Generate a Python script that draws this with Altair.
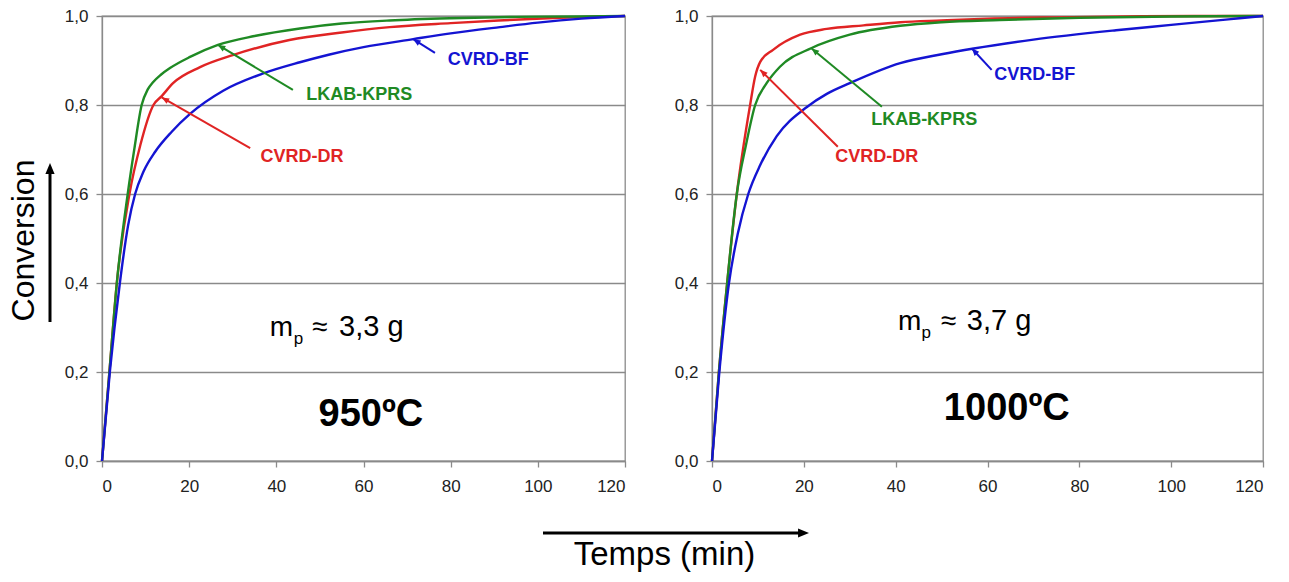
import math
import altair as alt
import pandas as pd

FONT = "Liberation Sans"
SERIES = ["CVRD-DR", "LKAB-KPRS", "CVRD-BF"]
COLORS = ["#e02424", "#1f8a24", "#1414d2"]

X_TICKS = [0, 20, 40, 60, 80, 100, 120]
Y_TICKS = [0.0, 0.2, 0.4, 0.6, 0.8, 1.0]

# ---- 950 °C panel (time in min, conversion) ----
t950_dr = [0, 1.7, 3.4, 6.3, 8.8, 11.8, 13.7, 16.3, 22.5, 30, 43, 55, 66, 80, 91, 105, 120]
c950_dr = [0, 0.2, 0.4, 0.6, 0.71, 0.8, 0.82, 0.849, 0.885, 0.912, 0.946, 0.963, 0.975, 0.984, 0.99, 0.996, 1.0]
t950_lkab = [0, 1.7, 3.4, 5.9, 7.4, 9.1, 10.5, 11.7, 13.5, 15.6, 20.2, 26.6, 35, 45.4, 55, 66, 80, 95, 110, 120]
c950_lkab = [0, 0.2, 0.4, 0.6, 0.7, 0.8, 0.835, 0.851, 0.868, 0.883, 0.908, 0.935, 0.955, 0.972, 0.983, 0.99, 0.995, 0.998, 0.999, 1.0]
t950_bf = [0, 1.8, 4.1, 6.0, 7.6, 9.5, 12.2, 16, 20.2, 27.8, 37, 45.4, 52, 60, 71.4, 80, 91.3, 100, 110, 120]
c950_bf = [0, 0.2, 0.4, 0.53, 0.6, 0.65, 0.695, 0.74, 0.78, 0.832, 0.871, 0.896, 0.913, 0.93, 0.948, 0.961, 0.975, 0.985, 0.994, 1.0]

# ---- 1000 °C panel ----
t1000_dr = [0, 1.5, 3.3, 5.4, 8.3, 9.4, 10.5, 13.3, 19.2, 25, 33, 41, 50, 60, 75, 90, 105, 120]
c1000_dr = [0, 0.2, 0.4, 0.6, 0.8, 0.864, 0.897, 0.924, 0.958, 0.971, 0.979, 0.986, 0.99, 0.994, 0.997, 0.999, 1.0, 1.0]
t1000_lkab = [0, 1.5, 3.3, 5.4, 7.4, 9.4, 11.9, 14.8, 21.7, 30, 41, 50, 62.7, 80, 100, 120]
c1000_lkab = [0, 0.2, 0.4, 0.6, 0.71, 0.8, 0.849, 0.886, 0.928, 0.958, 0.978, 0.986, 0.991, 0.996, 0.999, 1.0]
t1000_bf = [0, 1.6, 3.7, 5.6, 7.9, 10.5, 14.1, 20.6, 25, 30, 41, 50, 57, 70, 88, 100, 113, 120]
c1000_bf = [0, 0.2, 0.4, 0.51, 0.6, 0.665, 0.73, 0.795, 0.825, 0.849, 0.894, 0.914, 0.927, 0.947, 0.968, 0.98, 0.993, 1.0]

# ---- annotations: label position, arrow start, arrow tip (data units) ----
lab950_x = [45.9, 59.0, 88.6]
lab950_y = [0.683, 0.822, 0.901]
arr950_x1 = [34.0, 43.8, 76.4]
arr950_y1 = [0.703, 0.834, 0.917]
arr950_x2 = [13.7, 26.6, 71.4]
arr950_y2 = [0.817, 0.935, 0.948]

lab1000_x = [35.9, 46.2, 70.3]
lab1000_y = [0.683, 0.766, 0.867]
arr1000_x1 = [27.4, 37.0, 60.9]
arr1000_y1 = [0.706, 0.796, 0.879]
arr1000_x2 = [10.5, 21.7, 56.6]
arr1000_y2 = [0.879, 0.927, 0.927]

W1, W2, H = 523, 551, 445
ARROW = "M0,0L0.42,1L-0.42,1Z"

cscale = alt.Scale(domain=SERIES, range=COLORS)
lab_expr = "replace(format(datum.value, '.1f'), '.', ',')"


def long_df(ts, cs):
    rows = []
    for s, t, c in zip(SERIES, ts, cs):
        for a, b in zip(t, c):
            rows.append({"s": s, "t": a, "c": b})
    return pd.DataFrame(rows)


def ann_df(lx, ly, x1, y1, x2, y2, w):
    rows = []
    for i, s in enumerate(SERIES):
        dx = (x2[i] - x1[i]) * w / 120.0
        dy = -(y2[i] - y1[i]) * H
        ang = math.degrees(math.atan2(dx, -dy)) % 360
        rows.append({"s": s, "lx": lx[i], "ly": ly[i], "x1": x1[i], "y1": y1[i],
                     "x2": x2[i], "y2": y2[i], "ang": ang})
    return pd.DataFrame(rows)


def panel(ts, cs, ann, w, mp_texts, mp_pos, temp_text, temp_pos, left):
    xs = alt.Scale(domain=[0, 120], nice=False)
    ys = alt.Scale(domain=[0, 1], nice=False)
    if left:
        xaxis = alt.Axis(values=X_TICKS, grid=False, title="Temps (min)",
                         titleX=562, titleY=103, titleAlign="center",
                         titleBaseline="alphabetic", titleFontSize=33,
                         titleFontWeight="normal", titleColor="black")
        yaxis = alt.Axis(values=Y_TICKS, grid=True, labelExpr=lab_expr,
                         title="Conversion", titleX=-69, titleY=224,
                         titleAngle=270, titleAlign="center",
                         titleBaseline="alphabetic", titleFontSize=32,
                         titleFontWeight="normal", titleColor="black")
    else:
        xaxis = alt.Axis(values=X_TICKS, grid=False, title=None)
        yaxis = alt.Axis(values=Y_TICKS, grid=True, labelExpr=lab_expr, title=None)

    base = alt.Chart(long_df(ts, cs))
    lines = base.mark_line(interpolate="monotone", strokeWidth=2.4).encode(
        x=alt.X("t:Q", scale=xs, axis=xaxis),
        y=alt.Y("c:Q", scale=ys, axis=yaxis),
        color=alt.Color("s:N", scale=cscale, legend=None),
    )
    a = alt.Chart(ann)
    rules = a.mark_rule(strokeWidth=2).encode(
        x="x1:Q", y="y1:Q", x2="x2:Q", y2="y2:Q",
        color=alt.Color("s:N", scale=cscale, legend=None),
    )
    heads = a.mark_point(shape=ARROW, filled=True, size=220, opacity=1).encode(
        x="x2:Q", y="y2:Q", angle=alt.Angle("ang:Q", scale=None),
        color=alt.Color("s:N", scale=cscale, legend=None),
    )
    labels = a.mark_text(fontWeight="bold", fontSize=18, font=FONT).encode(
        x="lx:Q", y="ly:Q", text="s:N",
        color=alt.Color("s:N", scale=cscale, legend=None),
    )
    mp = pd.DataFrame({
        "txt": mp_texts,
        "x": mp_pos[0], "y": mp_pos[1], "fs": [28, 17, 28, 29],
    })
    mpt = alt.Chart(mp).mark_text(align="left", baseline="alphabetic", font=FONT,
                                  color="black").encode(
        x="x:Q", y="y:Q", text="txt:N", size=alt.Size("fs:Q", scale=None, legend=None)
    )
    tt = alt.Chart(pd.DataFrame({"txt": [temp_text], "x": [temp_pos[0]], "y": [temp_pos[1]]})
                   ).mark_text(align="center", baseline="alphabetic", fontSize=38,
                               fontWeight="bold", font=FONT, color="black").encode(
        x="x:Q", y="y:Q", text="txt:N")
    layers = [lines, rules, heads, labels, mpt, tt]
    if left:
        one = alt.Chart(pd.DataFrame({"k": [0]}))
        v_rule = one.mark_rule(color="black", strokeWidth=3).encode(
            x=alt.value(-52), y=alt.value(306), y2=alt.value(155))
        v_head = one.mark_point(shape=ARROW, filled=True, size=480, opacity=1,
                                color="black").encode(
            x=alt.value(-52), y=alt.value(147), angle=alt.value(0))
        h_rule = one.mark_rule(color="black", strokeWidth=3).encode(
            x=alt.value(441), x2=alt.value(698), y=alt.value(517))
        h_head = one.mark_point(shape=ARROW, filled=True, size=480, opacity=1,
                                color="black").encode(
            x=alt.value(707), y=alt.value(517), angle=alt.value(90))
        layers += [v_rule, v_head, h_rule, h_head]
    return alt.layer(*layers).properties(width=w, height=H)


left = panel(
    [t950_dr, t950_lkab, t950_bf], [c950_dr, c950_lkab, c950_bf],
    ann_df(lab950_x, lab950_y, arr950_x1, arr950_y1, arr950_x2, arr950_y2, W1), W1,
    ["m", "p", "\u2248", "3,3 g"],
    ([38.5, 44.0, 48.2, 54.4], [0.281, 0.263, 0.281, 0.281]),
    "950\u00baC", (61.7, 0.079), True)

right = panel(
    [t1000_dr, t1000_lkab, t1000_bf], [c1000_dr, c1000_lkab, c1000_bf],
    ann_df(lab1000_x, lab1000_y, arr1000_x1, arr1000_y1, arr1000_x2, arr1000_y2, W2), W2,
    ["m", "p", "\u2248", "3,7 g"],
    ([40.5, 45.6, 49.8, 55.5], [0.294, 0.276, 0.294, 0.294]),
    "1000\u00baC", (64.2, 0.092), False)

chart = alt.hconcat(left, right, spacing=87, bounds="flush").properties(
    padding={"left": -2, "top": -2, "right": 5, "bottom": 0},
    background="white",
).configure(font=FONT).configure_view(
    stroke="#8a8a8a", strokeWidth=1.3
).configure_axis(
    domainColor="#8a8a8a", domainWidth=1.3, tickColor="#8a8a8a", tickWidth=1.3,
    tickSize=6, gridColor="#8a8a8a", gridWidth=1.3, labelFontSize=17,
    labelColor="#222222", labelFont=FONT, titleFont=FONT,
).configure_axisX(labelPadding=11).configure_axisY(labelPadding=8)

chart.save("out.html", embed_options={"renderer": "svg", "actions": False})
